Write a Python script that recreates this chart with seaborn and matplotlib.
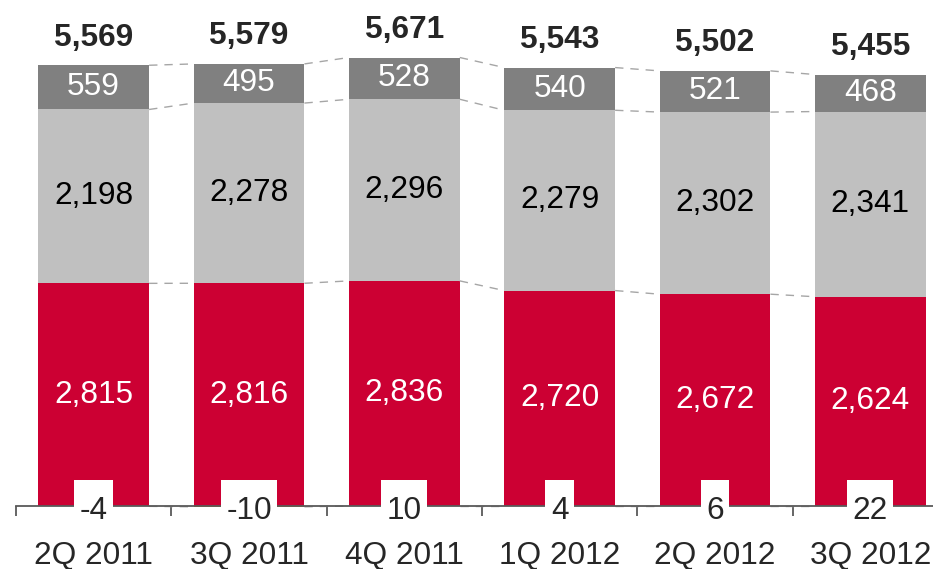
import numpy as np
import pandas as pd
import seaborn as sns
import matplotlib.pyplot as plt
from matplotlib.patches import Rectangle
from matplotlib.transforms import IdentityTransform

quarters = ["2Q 2011", "3Q 2011", "4Q 2011", "1Q 2012", "2Q 2012", "3Q 2012"]
other = [-4, -10, 10, 4, 6, 22]
red_seg = [2815, 2816, 2836, 2720, 2672, 2624]
light_seg = [2198, 2278, 2296, 2279, 2302, 2341]
dark_seg = [559, 495, 528, 540, 521, 468]
totals = [5569, 5579, 5671, 5543, 5502, 5455]

sns.set_style("white")
plt.rcParams["font.family"] = ["Liberation Sans", "DejaVu Sans"]

df = pd.DataFrame({"quarter": quarters, "other": other, "red": red_seg,
                   "light": light_seg, "dark": dark_seg})
df["base"] = df["other"].clip(lower=0)
df["low"] = df["other"].clip(upper=0)
df["red_top"] = df["base"] + df["red"]
df["light_top"] = df["red_top"] + df["light"]
df["dark_top"] = df["light_top"] + df["dark"]

fig = plt.figure(figsize=(9.33, 5.69), dpi=100)
ax = fig.add_axes([16 / 933, 0, 932 / 933, 1])

W = 0.714
FS = 22.8
layers = [("dark_top", "#808080"), ("light_top", "#C0C0C0"),
          ("red_top", "#CC0033"), ("low", "#E69500")]
for col, color in layers:
    sns.barplot(data=df, x="quarter", y=col, color=color, width=W,
                saturation=1, errorbar=None, linewidth=0, ax=ax)

ax.set_xlim(-0.5, 5.5)
ax.set_ylim(-796, 6397)

# dashed connectors between neighbouring bars
for col in ["low", "red_top", "light_top", "dark_top"]:
    lvl = df[col].values
    for i in range(len(lvl) - 1):
        ax.plot([i + W / 2, i + 1 - W / 2], [lvl[i], lvl[i + 1]],
                color="#A6A6A6", lw=1, ls=(0, (6, 5)), zorder=1)

# segment labels
for i, r in df.iterrows():
    ax.text(i, r["base"] + r["red"] / 2, f"{r['red']:,}", ha="center",
            va="center", color="white", fontsize=FS)
    ax.text(i, r["red_top"] + r["light"] / 2, f"{r['light']:,}", ha="center",
            va="center", color="black", fontsize=FS)
    ax.text(i, r["light_top"] + r["dark"] / 2, f"{r['dark']:,}", ha="center",
            va="center", color="white", fontsize=FS)
    ax.annotate(f"{totals[i]:,}", (i, r["dark_top"]), xytext=(0, 14),
                textcoords="offset points", ha="center", va="baseline",
                fontsize=FS, fontweight="bold")

small_texts = [ax.text(i, -164, f"{v}", ha="center", va="baseline",
                       fontsize=FS, zorder=6) for i, v in enumerate(other)]

# axis styling
sns.despine(ax=ax, left=True)
ax.spines["bottom"].set_position(("data", 0))
ax.spines["bottom"].set_color("#595959")
ax.spines["bottom"].set_linewidth(1.3)
ax.set_yticks([])
ax.set_xlabel("")
ax.set_ylabel("")
ax.set_xticks(np.arange(-0.5, 6, 1), minor=True)
ax.tick_params(axis="x", which="both", bottom=True)
ax.tick_params(axis="x", which="minor", length=7.2, width=1.3,
               color="#595959", direction="out")
ax.tick_params(axis="x", which="major", length=0, pad=25, labelsize=FS)

# white boxes behind the small labels
fig.canvas.draw()
top_px = ax.transData.transform((0, 329))[1]
for t in small_texts:
    bb = t.get_window_extent()
    ax.add_patch(Rectangle((bb.x0 - 5.5, bb.y0), bb.width + 11, top_px - bb.y0,
                           transform=IdentityTransform(), facecolor="white",
                           edgecolor="none", zorder=5))

fig.savefig("out.png", dpi=100)
